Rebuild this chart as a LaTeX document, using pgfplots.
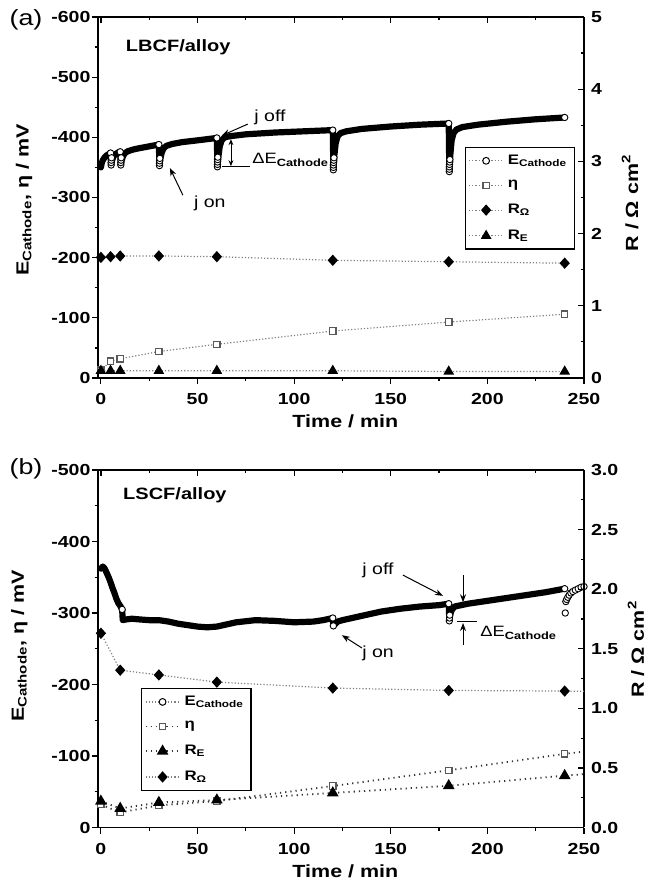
\documentclass[border=0pt]{standalone}
\usepackage{pgfplots}
\pgfplotsset{compat=1.18}
\usepackage{fontspec}
\setmainfont[FakeStretch=1.22]{Liberation Sans}
\usetikzlibrary{arrows.meta}

\tikzset{
  lbl/.style={font=\bfseries\fontsize{8.8}{10}\selectfont},
  annot/.style={font=\fontsize{8}{9}\selectfont},
  arr/.style={-{Stealth[length=4pt,width=3pt]}, line width=0.5pt},
}
\pgfplotsset{
  base/.style={
    scale only axis, width=243pt,
    xmin=-1.5, xmax=250, xtick={0,50,...,250}, minor x tick num=1,
    /pgf/number format/assume math mode=true,
    ticklabel style={font=\bfseries\fontsize{8}{9}\selectfont},
    major tick length=3pt, minor tick length=1.7pt,
    every tick/.style={black, line width=0.6pt},
    axis line style={line width=0.8pt},
    clip=true,
  },
  prim/.style={axis x line*=bottom, axis y line*=left, tick align=outside,
    yticklabel style={inner sep=0pt, xshift=-0.6pt},
    xticklabel style={yshift=-1.2pt}},
  ecath/.style={black, line width=3.1pt, line join=round, line cap=round},
  ocirc/.style={only marks, mark=*, mark size=1.6pt, mark options={draw=black, fill=white, line width=0.45pt}},
  etaS/.style={gray, densely dotted, line width=0.6pt, mark=square*, mark size=1.6pt, mark options={solid, draw=black!65, fill=white, line width=0.6pt}},
  rohm/.style={gray, densely dotted, line width=0.6pt, mark=diamond*, mark size=2.4pt, mark options={solid, black, xscale=1.2}},
  re/.style={gray, densely dotted, line width=0.6pt, mark=triangle*, mark size=2.5pt, mark options={solid, black}},
  ecleg/.style={gray, densely dotted, line width=0.6pt, mark=*, mark size=1.7pt, mark options={solid, draw=black, fill=white, line width=0.5pt}},
  myleg/.style={legend style={draw=black, line width=0.6pt, fill=white, font=\bfseries\fontsize{6.9}{7.5}\selectfont, row sep=2.6pt, inner sep=1.5pt, legend cell align=left, cells={anchor=west, inner xsep=1.2pt}}},
}

\begin{document}
\begin{tikzpicture}
\useasboundingbox (0,0) rectangle (326.5pt,441.5pt);

\node[font=\fontsize{11}{12}\selectfont] at (13pt,431.5pt) {(a)};
\node[font=\fontsize{11}{12}\selectfont] at (13pt,207.25pt) {(b)};

%================ panel (a) primary =================
\begin{axis}[base, prim, at={(49pt,252.5pt)}, anchor=south west, height=180.5pt,
  y dir=reverse, ymin=-600, ymax=0, ytick={-600,-500,...,0}, minor y tick num=1,
  xlabel={Time / min}, ylabel={E\textsubscript{Cathode}, η / mV},
  xlabel style={lbl, at={(axis description cs:0.509,-0.119)}, anchor=center},
  ylabel style={lbl, at={(axis description cs:-0.152,0.493)}, anchor=center},
]
% E_Cathode (LBCF)
\addplot[ecath] coordinates {
(0,-350)(0.5,-358)(1,-362)(2,-367)(3,-370)(4,-372)(5,-374)
(5.3,-354)(5.8,-362)(6.5,-368)(7.5,-372)(9,-375)(10,-376)
(10.3,-354)(10.8,-362)(11.5,-369)(12.5,-374)(14,-377)(17,-380)(20,-382)(25,-385)(30,-388)
(30.3,-353)(30.8,-365)(31.5,-375)(32.5,-382)(34,-386)(37,-389)(42,-392)(50,-395)(60,-399)
(60.3,-351)(60.8,-368)(61.5,-385)(62.5,-395)(64,-400)(67,-402)(75,-405)(90,-408)(105,-410)(120,-412)
(120.3,-346)(120.8,-370)(121.5,-390)(122.5,-402)(124,-407)(127,-410)(135,-414)(150,-418)(165,-421)(180,-423)
(180.3,-343)(180.8,-370)(181.5,-395)(182.5,-407)(184,-413)(187,-417)(195,-421)(210,-426)(225,-430)(240,-433)
};
\addplot[ocirc] coordinates {
(5,-374)(10,-376)(30,-388)(60,-399)(120,-412)(180,-423)(240,-433)
(5.3,-354)(5.3,-358)(5.4,-362)(5.5,-366)
(10.3,-354)(10.3,-358)(10.4,-362)(10.5,-366)
(30.3,-353)(30.3,-357)(30.4,-361)(30.5,-365)
(60.3,-351)(60.3,-355)(60.35,-359)(60.4,-363)(60.5,-367)
(120.3,-346)(120.3,-350)(120.3,-354)(120.4,-358)(120.5,-362)(120.6,-366)
(180.3,-343)(180.3,-347)(180.3,-351)(180.4,-355)(180.5,-359)(180.6,-363)
};
% eta
\addplot[etaS] coordinates {
(0,-13)(5,-28)(10,-32)(30,-44)(60,-56)(120,-78)(180,-93)(240,-106)
};
\node[font=\bfseries\fontsize{8.2}{9}\selectfont] at (axis cs:40,-550) {LBCF/alloy};
\node[annot] at (axis cs:87.5,-434) {j off};
\draw[arr] (axis cs:76,-422) -- (axis cs:62.6,-403);
\node[annot] at (axis cs:56.4,-290) {j on};
\draw[arr] (axis cs:42.4,-304) -- (axis cs:35.7,-349);
\draw[{Stealth[length=3pt,width=2.4pt]}-{Stealth[length=3pt,width=2.4pt]}, line width=0.45pt] (axis cs:67.3,-397) -- (axis cs:67.3,-352);
\draw[line width=0.45pt] (axis cs:62.6,-351) -- (axis cs:77,-351);
\node[anchor=west, font=\fontsize{7.5}{8}\selectfont, inner sep=0pt] at (axis cs:78.2,-362) {ΔE\textsubscript{\bfseries Cathode}};
\end{axis}

%================ panel (a) secondary =================
\begin{axis}[base, myleg, at={(49pt,252.5pt)}, anchor=south west, height=180.5pt,
  axis x line*=top, axis y line*=right, tick align=inside, xticklabels={},
  ymin=0, ymax=5, ytick={0,1,...,5}, minor y tick num=1,
  ylabel={R / Ω cm\textsuperscript{2}},
  ylabel style={lbl, at={(axis description cs:1.095,0.485)}, anchor=center},
  legend style={at={(0.981,0.64)}, anchor=north east},
]
\addlegendimage{ecleg}\addlegendentry{E\textsubscript{Cathode}}
\addlegendimage{etaS}\addlegendentry{η}
\addlegendimage{rohm}\addlegendentry{R\textsubscript{Ω}}
\addlegendimage{re}\addlegendentry{R\textsubscript{E}}
\addplot[rohm, forget plot] coordinates {
(0,1.67)(5,1.68)(10,1.69)(30,1.69)(60,1.68)(120,1.63)(180,1.61)(240,1.59)
};
\addplot[re, forget plot] coordinates {
(0,0.10)(5,0.10)(10,0.10)(30,0.10)(60,0.10)(120,0.10)(180,0.09)(240,0.09)
};
\end{axis}

%================ panel (b) primary =================
\begin{axis}[base, prim, at={(49pt,27.75pt)}, anchor=south west, height=178.75pt,
  y dir=reverse, ymin=-500, ymax=0, ytick={-500,-400,...,0}, minor y tick num=1,
  xlabel={Time / min}, ylabel={E\textsubscript{Cathode}, η / mV},
  xlabel style={lbl, at={(axis description cs:0.509,-0.122)}, anchor=center},
  ylabel style={lbl, at={(axis description cs:-0.162,0.508)}, anchor=center},
]
\addplot[ecath] coordinates {
(0,-362)(1,-365)(2,-362)(3,-356)(4,-350)(5,-343)(6,-335)(7,-328)(8,-320)(9,-314)(10,-310)(11,-305)
(11.3,-290)(13,-291)(16,-292)(20,-291)(25,-290)(30,-290)(35,-288)(40,-285)(45,-283)(50,-281)(55,-280)(60,-281)(65,-284)(70,-287)(80,-290)(90,-289)(100,-287)(110,-288)(115,-290)(120,-293)
(120.3,-282)(121,-284)(122.5,-288)(125,-290)(130,-293)(135,-296)(145,-302)(155,-306)(165,-309)(175,-311)(180,-313)
(180.3,-289)(180.8,-298)(181.5,-304)(183,-309)(190,-313)(200,-317)(210,-321)(220,-325)(230,-329)(240,-334)
};
\addplot[ocirc] coordinates {
(11,-305)(120,-293)(180,-313)(240,-334)
(120.3,-282)(180.3,-289)(180.4,-293)(180.5,-297)
(240.3,-300)(240.6,-316)(241,-319)(241.6,-322)(242.3,-325)(243.2,-328)(244.2,-330)(245.5,-332)(247,-334)(248.5,-336)(250,-337)
};
\addplot[etaS, black!80, dotted, line width=0.9pt] coordinates {
(0,-32)(10,-21)(30,-31)(60,-37)(120,-58)(180,-80)(240,-103)(300,-122)
};
\node[font=\bfseries\fontsize{8.2}{9}\selectfont] at (axis cs:38.3,-465) {LSCF/alloy};
\node[annot] at (axis cs:143.4,-360) {j off};
\draw[arr] (axis cs:156.3,-353) -- (axis cs:177,-324);
\draw[arr] (axis cs:187.4,-353) -- (axis cs:187.4,-315);
\draw[line width=0.45pt] (axis cs:184.3,-288) -- (axis cs:194.6,-288);
\draw[arr] (axis cs:187.4,-255) -- (axis cs:187.4,-286);
\node[anchor=west, font=\fontsize{7.5}{8}\selectfont, inner sep=0pt] at (axis cs:196.2,-272) {ΔE\textsubscript{\bfseries Cathode}};
\node[annot] at (axis cs:143.4,-244) {j on};
\draw[arr] (axis cs:135.1,-251) -- (axis cs:124.7,-269);
\end{axis}

%================ panel (b) secondary =================
\begin{axis}[base, myleg, at={(49pt,27.75pt)}, anchor=south west, height=178.75pt,
  axis x line*=top, axis y line*=right, tick align=inside, xticklabels={},
  ymin=0, ymax=3, ytick={0,0.5,...,3}, minor y tick num=1,
  yticklabel style={/pgf/number format/.cd, fixed, fixed zerofill, precision=1},
  ylabel={R / Ω cm\textsuperscript{2}},
  ylabel style={lbl, at={(axis description cs:1.107,0.499)}, anchor=center},
  legend style={at={(0.0885,0.39)}, anchor=north west},
]
\addlegendimage{ecleg}\addlegendentry{E\textsubscript{Cathode}}
\addlegendimage{etaS, black!80, dotted, line width=0.9pt}\addlegendentry{η}
\addlegendimage{re, black!80, dotted, line width=0.9pt}\addlegendentry{R\textsubscript{E}}
\addlegendimage{rohm}\addlegendentry{R\textsubscript{Ω}}
\addplot[rohm, forget plot] coordinates {
(0,1.63)(10,1.32)(30,1.28)(60,1.22)(120,1.17)(180,1.15)(240,1.145)(300,1.13)
};
\addplot[re, black!80, dotted, line width=0.9pt, forget plot] coordinates {
(0,0.22)(10,0.16)(30,0.21)(60,0.23)(120,0.29)(180,0.35)(240,0.435)(300,0.51)
};
\end{axis}
\end{tikzpicture}
\end{document}
